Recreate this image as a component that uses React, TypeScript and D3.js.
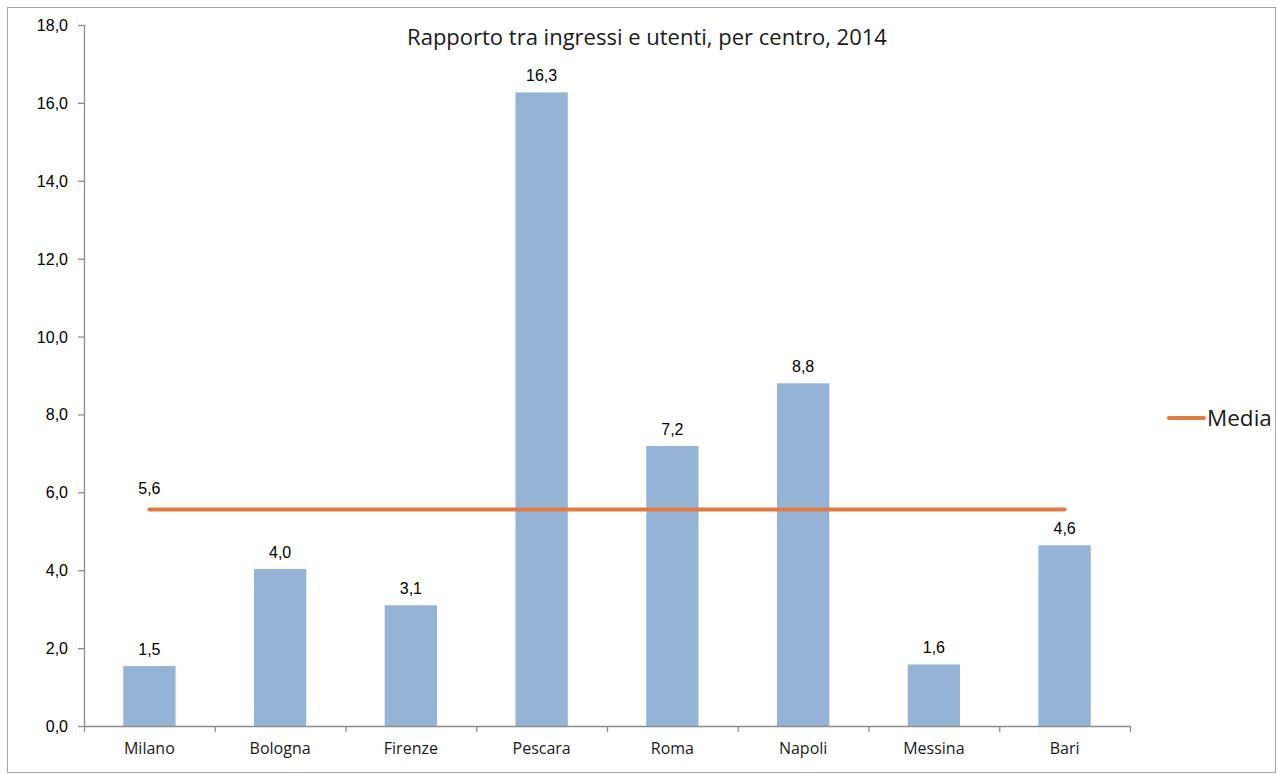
import React from "react";
import * as d3 from "d3";

const categories = ["Milano", "Bologna", "Firenze", "Pescara", "Roma", "Napoli", "Messina", "Bari"];
const values = [1.54, 4.03, 3.1, 16.27, 7.19, 8.8, 1.58, 4.64];
const valueLabels = ["1,5", "4,0", "3,1", "16,3", "7,2", "8,8", "1,6", "4,6"];
const mediaValue = 5.56;
const mediaLabel = "5,6";
const yTicks = [0, 2, 4, 6, 8, 10, 12, 14, 16, 18];
const title = "Rapporto tra ingressi e utenti, per centro, 2014";
const legendLabel = "Media";

const W = 1277;
const H = 775;
const left = 84;
const right = 1130;
const top = 25;
const bottom = 726;

export default function App() {
  const x = d3.scaleBand<string>().domain(categories).range([left, right]).paddingInner(0).paddingOuter(0);
  const y = d3.scaleLinear().domain([0, 18]).range([bottom, top]);
  const bw = x.bandwidth() * 0.4;
  const fmt = (v: number) => d3.format(".1f")(v).replace(".", ",");
  const gothic = "'Century Gothic', 'Open Sans', 'DejaVu Sans', sans-serif";
  const arial = "'Liberation Sans', Arial, sans-serif";
  const firstC = x(categories[0])! + x.bandwidth() / 2;
  const lastC = x(categories[categories.length - 1])! + x.bandwidth() / 2;
  const axisColor = "#8c8c8c";
  return (
    <svg width={W} height={H} style={{ position: "absolute", left: 0, top: 0, background: "#fff" }}>
      <rect x={7.5} y={7.5} width={1268} height={765} fill="#fff" stroke="#a6a6a6" strokeWidth={1} />
      <text x={647} y={45} textAnchor="middle" fontFamily={gothic} fontSize={22} fill="#1a1a1a">{title}</text>
      {/* y axis */}
      <line x1={left + 0.5} x2={left + 0.5} y1={top} y2={bottom} stroke={axisColor} strokeWidth={1.3} />
      {yTicks.map((t) => (
        <g key={t}>
          <line x1={left - 6} x2={left} y1={y(t) + 0.5} y2={y(t) + 0.5} stroke={axisColor} strokeWidth={1.3} />
          <text x={68} y={y(t) + 6} textAnchor="end" fontFamily={arial} fontSize={16} fill="#000">{fmt(t)}</text>
        </g>
      ))}
      {/* bars */}
      {categories.map((c, i) => (
        <g key={c}>
          <rect x={x(c)! + (x.bandwidth() - bw) / 2} y={y(values[i])} width={bw} height={bottom - y(values[i])} fill="#95b3d7" />
          <text x={x(c)! + x.bandwidth() / 2} y={y(values[i]) - 11} textAnchor="middle" fontFamily={arial} fontSize={16} fill="#000">{valueLabels[i]}</text>
          <text x={x(c)! + x.bandwidth() / 2} y={754} textAnchor="middle" fontFamily={gothic} fontSize={16} fill="#1a1a1a">{c}</text>
        </g>
      ))}
      {/* x axis */}
      <line x1={left} x2={right} y1={bottom + 0.5} y2={bottom + 0.5} stroke={axisColor} strokeWidth={1.3} />
      {[...categories.map((c) => x(c)!), right].map((tx, i) => (
        <line key={i} x1={tx + 0.5} x2={tx + 0.5} y1={bottom} y2={bottom + 6} stroke={axisColor} strokeWidth={1.3} />
      ))}
      {/* media line */}
      <line x1={firstC} x2={lastC} y1={y(mediaValue)} y2={y(mediaValue)} stroke="#e07c43" strokeWidth={4} strokeLinecap="round" />
      <text x={firstC} y={y(mediaValue) - 15} textAnchor="middle" fontFamily={arial} fontSize={16} fill="#000">{mediaLabel}</text>
      {/* legend */}
      <line x1={1169} x2={1204} y1={418} y2={418} stroke="#e07c43" strokeWidth={4} strokeLinecap="round" />
      <text x={1207} y={426} fontFamily={gothic} fontSize={22.5} fill="#1a1a1a">{legendLabel}</text>
    </svg>
  );
}
